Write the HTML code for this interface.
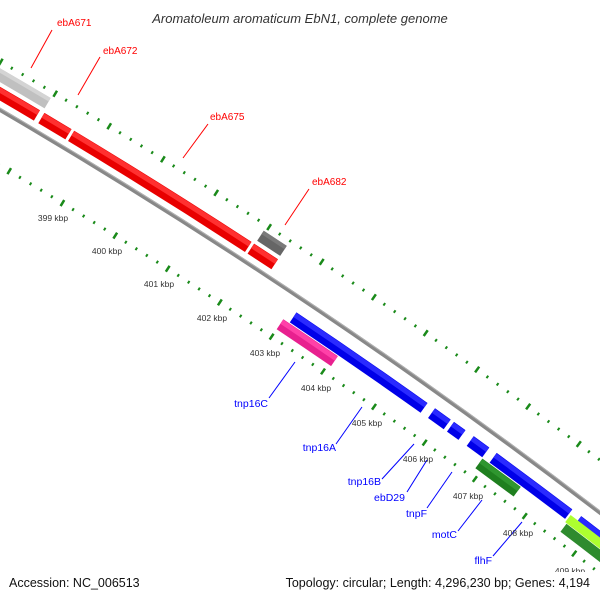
<!DOCTYPE html>
<html><head><meta charset="utf-8"><style>
html,body{margin:0;padding:0;background:#fff;width:600px;height:600px;overflow:hidden;}
svg{display:block;font-family:"Liberation Sans",sans-serif;overflow:hidden;}
</style></head><body>
<svg width="600" height="600" viewBox="0 0 600 600" xmlns="http://www.w3.org/2000/svg">
<defs><clipPath id="c"><rect x="0" y="0" width="600" height="600"/></clipPath></defs>
<g fill="none" clip-path="url(#c)">
<circle cx="-2944" cy="5142" r="5872" stroke="#1a8a1a" stroke-width="3" stroke-dasharray="2 10.606" stroke-dashoffset="1" transform="rotate(-61.745 -2944 5142)"/>
<circle cx="-2944" cy="5142" r="5872" stroke="#1a8a1a" stroke-width="7" stroke-dasharray="2.5 60.53" stroke-dashoffset="1.25" transform="rotate(-61.745 -2944 5142)"/>
<circle cx="-2944" cy="5142" r="5782" stroke="#1a8a1a" stroke-width="3" stroke-dasharray="2 10.413" stroke-dashoffset="1" transform="rotate(-61.745 -2944 5142)"/>
<circle cx="-2944" cy="5142" r="5782" stroke="#1a8a1a" stroke-width="7" stroke-dasharray="2.5 59.56" stroke-dashoffset="1.25" transform="rotate(-61.745 -2944 5142)"/>
<circle cx="-2944" cy="5142" r="5830" stroke="#888" stroke-width="4"/>
<circle cx="-2944" cy="5142" r="5831.5" stroke="#b0b0b0" stroke-width="1"/>
<circle cx="-2944" cy="5142" r="5860" stroke="#c0c0c0" stroke-width="12" stroke-dasharray="276 40000" transform="rotate(-62 -2944 5142)"/>
<circle cx="-2944" cy="5142" r="5864" stroke="#d4d4d4" stroke-width="4" stroke-dasharray="276 40000" transform="rotate(-62 -2944 5142)"/>
<circle cx="-2944" cy="5142" r="5860" stroke="#666" stroke-width="12" stroke-dasharray="27.6 40000" transform="rotate(-56.85 -2944 5142)"/>
<circle cx="-2944" cy="5142" r="5864" stroke="#7a7a7a" stroke-width="4" stroke-dasharray="27.6 40000" transform="rotate(-56.85 -2944 5142)"/>
<g stroke="#e80000" stroke-width="12">
<circle cx="-2944" cy="5142" r="5844" stroke-dasharray="272.3 40000" transform="rotate(-62 -2944 5142)"/>
<circle cx="-2944" cy="5142" r="5844" stroke-dasharray="31.6 40000" transform="rotate(-59.28 -2944 5142)"/>
<circle cx="-2944" cy="5142" r="5844" stroke-dasharray="209.1 40000" transform="rotate(-58.94 -2944 5142)"/>
<circle cx="-2944" cy="5142" r="5844" stroke-dasharray="28.6 40000" transform="rotate(-56.86 -2944 5142)"/>
</g>
<g stroke="#ff3030" stroke-width="5">
<circle cx="-2944" cy="5142" r="5847" stroke-dasharray="272.3 40000" transform="rotate(-62 -2944 5142)"/>
<circle cx="-2944" cy="5142" r="5847" stroke-dasharray="31.6 40000" transform="rotate(-59.28 -2944 5142)"/>
<circle cx="-2944" cy="5142" r="5847" stroke-dasharray="209.1 40000" transform="rotate(-58.94 -2944 5142)"/>
<circle cx="-2944" cy="5142" r="5847" stroke-dasharray="28.6 40000" transform="rotate(-56.86 -2944 5142)"/>
</g>
<g stroke="#0000e8" stroke-width="12">
<circle cx="-2944" cy="5142" r="5810" stroke-dasharray="159.2 40000" transform="rotate(-56.14 -2944 5142)"/>
<circle cx="-2944" cy="5142" r="5810" stroke-dasharray="19.3 40000" transform="rotate(-54.48 -2944 5142)"/>
<circle cx="-2944" cy="5142" r="5810" stroke-dasharray="14.2 40000" transform="rotate(-54.25 -2944 5142)"/>
<circle cx="-2944" cy="5142" r="5810" stroke-dasharray="19.3 40000" transform="rotate(-54.01 -2944 5142)"/>
<circle cx="-2944" cy="5142" r="5810" stroke-dasharray="94.3 40000" transform="rotate(-53.73 -2944 5142)"/>
<circle cx="-2944" cy="5142" r="5810" stroke-dasharray="272.8 40000" transform="rotate(-52.69 -2944 5142)"/>
</g>
<g stroke="#2a2aff" stroke-width="5">
<circle cx="-2944" cy="5142" r="5813" stroke-dasharray="159.2 40000" transform="rotate(-56.14 -2944 5142)"/>
<circle cx="-2944" cy="5142" r="5813" stroke-dasharray="19.3 40000" transform="rotate(-54.48 -2944 5142)"/>
<circle cx="-2944" cy="5142" r="5813" stroke-dasharray="14.2 40000" transform="rotate(-54.25 -2944 5142)"/>
<circle cx="-2944" cy="5142" r="5813" stroke-dasharray="19.3 40000" transform="rotate(-54.01 -2944 5142)"/>
<circle cx="-2944" cy="5142" r="5813" stroke-dasharray="94.3 40000" transform="rotate(-53.73 -2944 5142)"/>
<circle cx="-2944" cy="5142" r="5813" stroke-dasharray="272.8 40000" transform="rotate(-52.69 -2944 5142)"/>
</g>
<circle cx="-2944" cy="5142" r="5797" stroke="#e8208f" stroke-width="12" stroke-dasharray="65.8 40000" transform="rotate(-56.21 -2944 5142)"/>
<circle cx="-2944" cy="5142" r="5800" stroke="#ff40a8" stroke-width="5" stroke-dasharray="65.8 40000" transform="rotate(-56.21 -2944 5142)"/>
<circle cx="-2944" cy="5142" r="5797" stroke="#1f7f1f" stroke-width="12" stroke-dasharray="47.6 40000" transform="rotate(-53.81 -2944 5142)"/>
<circle cx="-2944" cy="5142" r="5800" stroke="#2f962f" stroke-width="5" stroke-dasharray="47.6 40000" transform="rotate(-53.81 -2944 5142)"/>
<circle cx="-2944" cy="5142" r="5796" stroke="#2e8b2e" stroke-width="10" stroke-dasharray="282 40000" transform="rotate(-52.76 -2944 5142)"/>
<circle cx="-2944" cy="5142" r="5806" stroke="#adff2f" stroke-width="9" stroke-dasharray="282 40000" transform="rotate(-52.78 -2944 5142)"/>
</g>
<g stroke="#f00" stroke-width="1">
<line x1="52" y1="30" x2="31" y2="68"/>
<line x1="100" y1="57" x2="78" y2="95"/>
<line x1="208" y1="124" x2="183" y2="158"/>
<line x1="309" y1="189" x2="285" y2="225"/>
</g>
<g stroke="#00f" stroke-width="1">
<line x1="269" y1="398" x2="295" y2="362"/>
<line x1="336" y1="444" x2="362" y2="407"/>
<line x1="382" y1="479" x2="414" y2="444"/>
<line x1="407" y1="492" x2="427" y2="460"/>
<line x1="427" y1="508" x2="452" y2="472"/>
<line x1="458" y1="531" x2="482" y2="500"/>
<line x1="493" y1="556" x2="522" y2="522"/>
</g>
<g fill="#f00" font-size="10">
<text x="57" y="26">ebA671</text>
<text x="103" y="54">ebA672</text>
<text x="210" y="120">ebA675</text>
<text x="312" y="185">ebA682</text>
</g>
<g fill="#00f" font-size="10.5" text-anchor="end">
<text x="268" y="407">tnp16C</text>
<text x="336" y="451">tnp16A</text>
<text x="381" y="485">tnp16B</text>
<text x="405" y="501">ebD29</text>
<text x="427" y="517">tnpF</text>
<text x="457" y="538">motC</text>
<text x="492" y="564">flhF</text>
</g>
<g fill="#333" font-size="8.5" text-anchor="middle">
<text x="53" y="221">399 kbp</text>
<text x="107" y="254">400 kbp</text>
<text x="159" y="287">401 kbp</text>
<text x="212" y="321">402 kbp</text>
<text x="265" y="356">403 kbp</text>
<text x="316" y="391">404 kbp</text>
<text x="367" y="426">405 kbp</text>
<text x="418" y="462">406 kbp</text>
<text x="468" y="499">407 kbp</text>
<text x="518" y="536">408 kbp</text>
<text x="570" y="574">409 kbp</text>
</g>
<rect x="0" y="572" width="600" height="28" fill="#fff"/>
<text x="300" y="23" text-anchor="middle" font-size="13" font-style="italic" fill="#333">Aromatoleum aromaticum EbN1, complete genome</text>
<text x="9" y="587" font-size="12.5" fill="#111">Accession: NC_006513</text>
<text x="590" y="587" font-size="12.5" fill="#111" text-anchor="end">Topology: circular; Length: 4,296,230 bp; Genes: 4,194</text>
</svg>
</body></html>
